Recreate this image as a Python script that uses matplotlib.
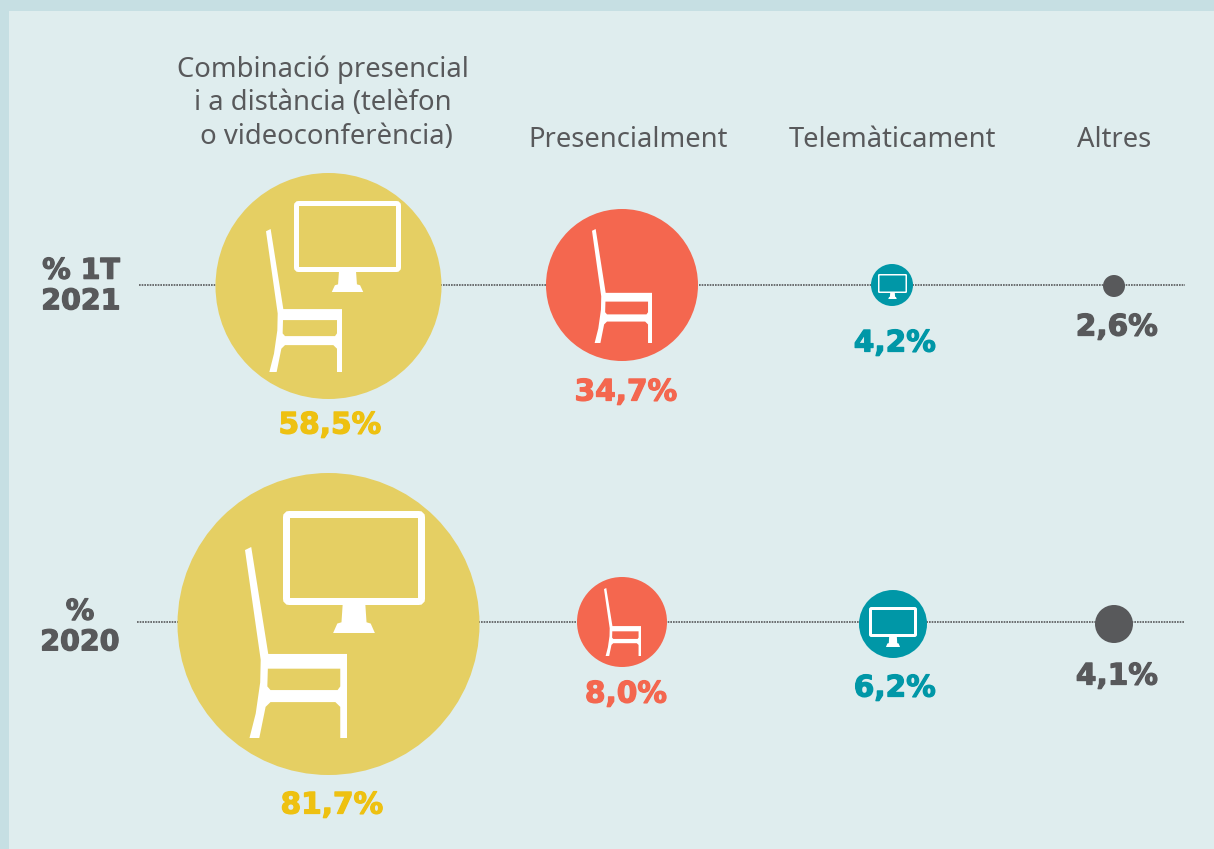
import matplotlib
matplotlib.use("Agg")
import matplotlib.pyplot as plt
import matplotlib.patheffects as pe
from matplotlib.patches import Circle, Polygon, Rectangle, FancyBboxPatch

categories = ["Combinació presencial\ni a distància (telèfon\n o videoconferència)", "Presencialment", "Telemàticament", "Altres"]
rows = ["% 1T\n2021", "%\n2020"]
pct_2021 = [58.5, 34.7, 4.2, 2.6]
pct_2020 = [81.7, 8.0, 6.2, 4.1]

# layout, in pixels of the 1214x849 picture
W, H = 1214, 849
centers_x = [[328.5, 622, 892, 1114], [328.5, 622, 893, 1114]]
centers_y = [[286, 285, 285, 286], [624, 622, 624, 624]]
radii = [[113, 76, 21, 11], [151, 45, 34, 19]]
label_x = [[330, 626, 895, 1117], [332, 626, 895, 1117]]
label_y = [[425, 392, 343, 327], [805, 694, 688, 676]]
head_x = [323, 628, 892, 1114]

BG_OUT = "#c6dfe3"
BG_IN = "#dfedee"
GREY = "#58595b"
circle_cols = ["#e5cf63", "#f4674f", "#0097a7", "#58595b"]
text_cols = ["#eec111", "#f4674f", "#0097a7", "#58595b"]

# chair outline, x and y from 0 to 1 of its box
chair = [(0, 0.016), (0.061, 0), (0.228, 0.56), (1, 0.56), (1, 1), (0.934, 1), (0.934, 0.837),
         (0.886, 0.812), (0.25, 0.812), (0.202, 0.837), (0.140, 1), (0.044, 1), (0.105, 0.872),
         (0.149, 0.709), (0.154, 0.591)]
seat_hole = [(0.224, 0.637), (0.934, 0.637), (0.934, 0.730), (0.908, 0.749), (0.25, 0.749), (0.219, 0.730)]
stand = [(0.42, 0.0), (0.58, 0.0), (0.59, 0.66), (0.62, 0.70), (0.65, 1), (0.35, 1), (0.38, 0.70), (0.41, 0.66)]


def draw_chair(ax, x0, y0, x1, y1, col):
    w, h = x1 - x0, y1 - y0
    ax.add_patch(Polygon([(x0 + a * w, y0 + b * h) for a, b in chair], fc="white", ec="none", zorder=4))
    ax.add_patch(Polygon([(x0 + a * w, y0 + b * h) for a, b in seat_hole], fc=col, ec="none", zorder=5))


def draw_monitor(ax, x0, y0, x1, y1, y2, lw):
    # x0-x1, y0-y1 is the screen frame, y2 the foot of the stand
    pad = (x1 - x0) * 0.02
    ax.add_patch(FancyBboxPatch((x0 + lw / 2 + pad, y0 + lw / 2 + pad), x1 - x0 - lw - 2 * pad, y1 - y0 - lw - 2 * pad,
                                boxstyle=f"round,pad={pad}", fc="none", ec="white", lw=lw * 0.72, zorder=4))
    w = x1 - x0
    ax.add_patch(Polygon([(x0 + w * (0.5 + (a - 0.5) * 0.98), y1 - lw / 2 + b * (y2 - y1 + lw / 2)) for a, b in stand],
                         fc="white", ec="none", zorder=4))


def bold_text(ax, x, y, s, col, size, **kw):
    # the original face is heavier than DejaVu Bold, so thicken it a little
    ax.text(x, y, s, color=col, fontsize=size, fontweight="bold", ha="center", va="center", family="DejaVu Sans",
            zorder=6, path_effects=[pe.withStroke(linewidth=0.9, foreground=col)], **kw)


fig = plt.figure(figsize=(W / 100, H / 100), dpi=100, facecolor=BG_OUT)
ax = fig.add_axes([0, 0, 1, 1])
ax.set_xlim(0, W)
ax.set_ylim(H, 0)
ax.axis("off")
ax.add_patch(Rectangle((9, 11), W, H, fc=BG_IN, ec="none", zorder=0))

# dotted guides
ax.plot([139, 1185], [285, 285], color=GREY, lw=1.2, ls=(0, (1, 0.6)), zorder=1)
ax.plot([137, 1185], [622, 622], color=GREY, lw=1.2, ls=(0, (1, 0.6)), zorder=1)

for i, vals in enumerate([pct_2021, pct_2020]):
    for j, v in enumerate(vals):
        ax.add_patch(Circle((centers_x[i][j], centers_y[i][j]), radii[i][j], fc=circle_cols[j], ec="none", zorder=2))
        bold_text(ax, label_x[i][j], label_y[i][j], f"{v:.1f}%".replace(".", ","), text_cols[j], 21.3)

# icons
draw_chair(ax, 266, 229, 342, 372, circle_cols[0])
draw_monitor(ax, 294, 201, 401, 272, 292, 5)
draw_chair(ax, 245, 547, 347, 738, circle_cols[0])
draw_monitor(ax, 283, 511, 425, 605, 633, 7)
draw_chair(ax, 592, 229, 652, 343, circle_cols[1])
draw_chair(ax, 604, 588, 641, 656, circle_cols[1])
draw_monitor(ax, 878, 274, 907, 293, 299, 1.5)
draw_monitor(ax, 869, 607, 917, 637, 647, 3)

# headers and row labels
ax.text(head_x[0], 103, categories[0], color=GREY, fontsize=19.7, ha="center", va="center", linespacing=1.27,
        family="Noto Sans", fontweight=300)
for j in [1, 2, 3]:
    ax.text(head_x[j], 140, categories[j], color=GREY, fontsize=19.7, ha="center", va="center",
            family="Noto Sans", fontweight=300)
bold_text(ax, 81, 286, rows[0], GREY, 20.5, linespacing=1.12)
bold_text(ax, 80, 627, rows[1], GREY, 20.5, linespacing=1.12)

fig.savefig("out.png", dpi=100, facecolor=BG_OUT)
